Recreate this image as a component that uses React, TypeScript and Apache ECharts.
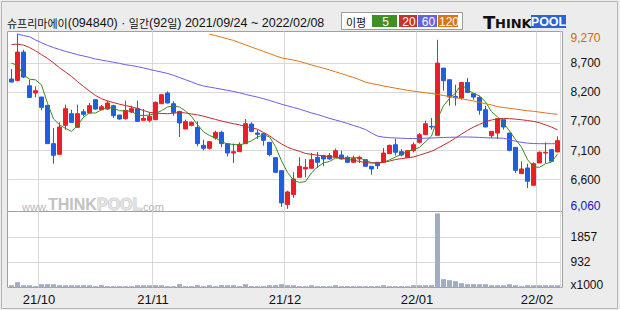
import React, { useEffect, useRef } from 'react';
import * as echarts from 'echarts';

const TITLE_NAME = '슈프리마에이';
const TITLE_CODE = '(094840)';
const TITLE_PERIOD = '2021/09/24 ~ 2022/02/08';

const DATES = [
  '2021/09/24', '2021/09/27', '2021/09/28', '2021/09/29', '2021/09/30',
  '2021/10/01', '2021/10/05', '2021/10/06', '2021/10/07', '2021/10/08', '2021/10/12', '2021/10/13', '2021/10/14', '2021/10/15',
  '2021/10/18', '2021/10/19', '2021/10/20', '2021/10/21', '2021/10/22', '2021/10/25', '2021/10/26', '2021/10/27', '2021/10/28', '2021/10/29',
  '2021/11/01', '2021/11/02', '2021/11/03', '2021/11/04', '2021/11/05', '2021/11/08', '2021/11/09', '2021/11/10', '2021/11/11', '2021/11/12',
  '2021/11/15', '2021/11/16', '2021/11/17', '2021/11/18', '2021/11/19', '2021/11/22', '2021/11/23', '2021/11/24', '2021/11/25', '2021/11/26',
  '2021/11/29', '2021/11/30',
  '2021/12/01', '2021/12/02', '2021/12/03', '2021/12/06', '2021/12/07', '2021/12/08', '2021/12/09', '2021/12/10', '2021/12/13', '2021/12/14',
  '2021/12/15', '2021/12/16', '2021/12/17', '2021/12/20', '2021/12/21', '2021/12/22', '2021/12/23', '2021/12/24', '2021/12/27', '2021/12/28',
  '2021/12/29', '2021/12/30',
  '2022/01/03', '2022/01/04', '2022/01/05', '2022/01/06', '2022/01/07', '2022/01/10', '2022/01/11', '2022/01/12', '2022/01/13', '2022/01/14',
  '2022/01/17', '2022/01/18', '2022/01/19', '2022/01/20', '2022/01/21', '2022/01/24', '2022/01/25', '2022/01/26', '2022/01/27', '2022/01/28',
  '2022/02/03', '2022/02/04', '2022/02/07', '2022/02/08',
];

const OPEN = [
  8442, 8417, 8937, 8319, 8185, 8112, 7959, 7256, 7060, 7592,
  7806, 7555, 7842, 7818, 8063, 7879, 7891, 7953, 7781, 7714,
  7836, 7898, 7684, 7684, 7696, 7989, 8185, 7989, 7849, 7525,
  7592, 7555, 7225, 7170, 7359, 7463, 7256, 7084, 7109, 7256,
  7616, 7451, 7439, 7280, 6999, 6760, 6137, 6320, 6638, 6791,
  6803, 7005, 7036, 7036, 7011, 7048, 7005, 6913, 6974, 6962,
  6840, 6913, 6913, 7072, 7237, 7109, 7005, 7127, 7280, 7421,
  7573, 7408, 8643, 8430, 8124, 8093, 8380, 8173, 8105, 7879,
  7402, 7451, 7696, 7451, 7188, 6705, 6809, 6491, 6901, 7084,
  7146, 7103,
];
const CLOSE = [
  8387, 8937, 8478, 8105, 8228, 7922, 7256, 7042, 7561, 7898,
  7647, 7806, 7794, 7953, 7891, 7934, 8002, 7769, 7708, 7867,
  7898, 7665, 7720, 7757, 8014, 8154, 8002, 7830, 7635, 7659,
  7647, 7256, 7170, 7292, 7463, 7256, 7084, 7109, 7243, 7622,
  7482, 7427, 7317, 7054, 6730, 6167, 6369, 6607, 6840, 6821,
  6962, 6913, 6974, 6974, 7127, 6974, 6913, 6987, 7005, 6840,
  6791, 6852, 7084, 7225, 7097, 7048, 7127, 7237, 7421, 7622,
  7561, 8735, 8411, 8112, 8099, 8380, 8197, 8112, 7867, 7561,
  7482, 7714, 7561, 7133, 6766, 6791, 6565, 6889, 7097, 7097,
  6932, 7311,
];
const LOW = [
  8380, 8400, 8460, 8099, 8105, 7867, 7250, 6889, 7054, 7512,
  7641, 7549, 7757, 7812, 7879, 7873, 7879, 7726, 7696, 7696,
  7818, 7659, 7684, 7647, 7690, 7983, 7996, 7769, 7378, 7519,
  7573, 7207, 7133, 7146, 7329, 7194, 7023, 6901, 7103, 7250,
  7463, 7341, 7219, 7023, 6717, 6094, 6060, 6260, 6638, 6638,
  6803, 6809, 6840, 6962, 7011, 6962, 6901, 6901, 6901, 6840,
  6687, 6791, 6913, 7072, 7036, 7023, 7005, 7097, 7256, 7421,
  7512, 7408, 8228, 7953, 7953, 8063, 8197, 8063, 7787, 7561,
  7360, 7341, 7512, 7115, 6717, 6705, 6442, 6491, 6901, 6901,
  6932, 7103,
];
const HIGH = [
  8625, 9270, 8980, 8430, 8307, 8112, 7965, 7543, 7647, 7971,
  7879, 7971, 7891, 8002, 8069, 7965, 8044, 7971, 7781, 8044,
  7953, 8044, 7891, 7836, 8032, 8160, 8215, 8032, 7849, 7696,
  7665, 7665, 7329, 7292, 7494, 7494, 7256, 7256, 7280, 7708,
  7647, 7512, 7451, 7286, 7005, 6766, 6393, 6730, 7005, 6974,
  7084, 7103, 7036, 7084, 7164, 7127, 7036, 7036, 7036, 6962,
  6840, 6913, 7176, 7237, 7347, 7158, 7127, 7280, 7451, 7678,
  7726, 9163, 8643, 8430, 8338, 8380, 8460, 8173, 8136, 7953,
  7482, 7714, 7696, 7451, 7188, 6932, 6889, 6913, 7115, 7280,
  7158, 7390,
];

// volume, in thousands of shares
const VOLUME = [
  84, 196, 86, 83, 52, 121, 124, 120, 86, 84,
  85, 83, 86, 84, 51, 86, 50, 49, 52, 50,
  48, 86, 84, 85, 87, 83, 51, 49, 123, 50,
  52, 85, 49, 86, 51, 85, 84, 86, 50, 122,
  51, 49, 52, 84, 86, 121, 85, 86, 50, 49,
  84, 51, 50, 48, 86, 50, 51, 49, 52, 50,
  49, 51, 85, 50, 49, 52, 50, 84, 86, 85,
  87, 2720, 306, 269, 233, 159, 122, 124, 121, 123,
  85, 86, 84, 122, 85, 50, 86, 84, 85, 86,
  84, 85,
];

const MA5 = [
  8735, 8690, 8520, 8440, 8427, 8334, 7998, 7711, 7602, 7536,
  7481, 7591, 7741, 7820, 7818, 7876, 7915, 7910, 7861, 7856,
  7849, 7781, 7772, 7781, 7811, 7862, 7929, 7951, 7927, 7856,
  7755, 7605, 7473, 7405, 7366, 7287, 7253, 7241, 7231, 7263,
  7308, 7377, 7418, 7380, 7202, 6939, 6727, 6585, 6543, 6561,
  6720, 6829, 6902, 6929, 6990, 6992, 6992, 6995, 7001, 6944,
  6907, 6895, 6914, 6958, 7010, 7061, 7116, 7147, 7186, 7291,
  7394, 7715, 7950, 8088, 8184, 8347, 8240, 8180, 8131, 8023,
  7844, 7747, 7637, 7490, 7331, 7193, 6963, 6829, 6822, 6888,
  6916, 7065,
];
const MA20 = [
  9075, 9083, 9065, 9020, 8960, 8890, 8820, 8740, 8650, 8570,
  8490, 8395, 8307, 8220, 8140, 8080, 8040, 8010, 7980, 7955,
  7932, 7900, 7865, 7830, 7818, 7810, 7805, 7815, 7828, 7820,
  7800, 7785, 7760, 7730, 7700, 7672, 7645, 7622, 7600, 7570,
  7550, 7520, 7460, 7400, 7320, 7250, 7190, 7150, 7115, 7075,
  7060, 7045, 7030, 7015, 7005, 6990, 6965, 6950, 6930, 6905,
  6900, 6905, 6913, 6935, 6965, 6980, 6995, 7011, 7045, 7080,
  7115, 7170, 7230, 7290, 7360, 7430, 7500, 7560, 7610, 7660,
  7690, 7712, 7720, 7715, 7706, 7695, 7680, 7665, 7640, 7600,
  7560, 7510,
];
const MA60 = [
  null, 9270, 9240, 9220, 9160, 9110, 9060, 9020, 8985, 8950,
  8920, 8890, 8865, 8840, 8810, 8790, 8770, 8750, 8730, 8705,
  8690, 8670, 8645, 8620, 8595, 8570, 8545, 8510, 8470, 8430,
  8390, 8345, 8315, 8295, 8275, 8255, 8235, 8215, 8190, 8160,
  8135, 8110, 8080, 8050, 8015, 7980, 7950, 7920, 7890, 7855,
  7820, 7790, 7755, 7720, 7690, 7660, 7625, 7590, 7555, 7515,
  7450, 7395, 7375, 7365, 7360, 7355, 7350, 7350, 7352, 7356,
  7360, 7365, 7368, 7372, 7375, 7378, 7378, 7375, 7370, 7365,
  7360, 7360, 7355, 7330, 7300, 7280, 7265, 7258, 7255, 7255,
  7255, 7255,
];
const MA120 = [
  null, null, null, null, null, null, null, null, null, null,
  null, null, null, null, null, null, null, null, null, null,
  null, null, null, null, null, null, null, null, null, null,
  null, null, null, 9265, 9240, 9210, 9180, 9151, 9110, 9070,
  9030, 8990, 8950, 8910, 8870, 8830, 8810, 8790, 8766, 8735,
  8700, 8670, 8640, 8610, 8575, 8540, 8505, 8470, 8430, 8385,
  8360, 8340, 8315, 8295, 8275, 8255, 8235, 8220, 8205, 8190,
  8175, 8160, 8140, 8120, 8100, 8080, 8060, 8040, 8015, 7990,
  7965, 7935, 7920, 7905, 7890, 7875, 7860, 7850, 7835, 7820,
  7805, 7795,
];

const MA_PERIODS = ['5', '20', '60', '120'];
const PRICE_TICKS = [6060, 6595, 7130, 7665, 8200, 8735, 9270];
const PRICE_TICK_LABELS = ['6,060', '6,600', '7,100', '7,700', '8,200', '8,700', '9,270'];
const VOLUME_TICKS = [0, 932, 1857];
const VOLUME_TICK_LABELS = ['x1000', '932', '1857'];

const UP = '#ec1f27';
const DOWN = '#1e5fe2';
const MA_COLORS = ['#3d8a1e', '#c02c2c', '#6b5ce6', '#dc7512'];
const LEGEND_COLORS = ['#3f8f28', '#c6332a', '#6464de', '#dc7410'];
const VOL_COLOR = '#a4acc4';
const GRID_LINE = '#d9d9d9';
const BG = '#ececec';
const LATIN = '"Liberation Sans", Arial, sans-serif';
const KR = '"Noto Sans CJK KR", sans-serif';
const BOLD = '"DejaVu Sans", sans-serif';

const isMonthStart = (i: number) => i > 0 && DATES[i].slice(0, 7) !== DATES[i - 1].slice(0, 7);
const monthLabel = (d: string) => d.slice(2, 4) + '/' + d.slice(5, 7);

function buildOption() {
  const candles = DATES.map((_, i) => [OPEN[i], CLOSE[i], LOW[i], HIGH[i]]);
  const maSeries = [MA5, MA20, MA60, MA120].map((data, k) => ({
    name: 'MA' + MA_PERIODS[k],
    type: 'line',
    xAxisIndex: 0,
    yAxisIndex: 0,
    data,
    symbol: 'none',
    showSymbol: false,
    connectNulls: false,
    lineStyle: { width: 1, color: MA_COLORS[k] },
    itemStyle: { color: MA_COLORS[k] },
    z: 3,
  }));

  const legendX = [372, 399, 418, 438];
  const legendW = [25, 18, 19, 20];

  const graphic: any[] = [
    { type: 'rect', z: -10, shape: { x: 1.5, y: 1.5, width: 616, height: 307 }, style: { fill: BG, stroke: '#b4b4b4', lineWidth: 1 } },
    { type: 'rect', z: -5, shape: { x: 7.5, y: 31.5, width: 555, height: 180 }, style: { fill: '#ffffff', stroke: '#a0a0a0', lineWidth: 1 } },
    { type: 'rect', z: -5, shape: { x: 7.5, y: 211.5, width: 555, height: 76 }, style: { fill: '#ffffff', stroke: '#a0a0a0', lineWidth: 1 } },
    {
      type: 'text', x: 7, y: 23, z: 5,
      style: {
        text: `{k|${TITLE_NAME}}{n|${TITLE_CODE} · }{k|일간}{n|(92}{k|일}{n|) ${TITLE_PERIOD}}`,
        align: 'left', verticalAlign: 'middle', textAlign: 'left', textVerticalAlign: 'middle',
        rich: {
          k: { fontFamily: KR, fontSize: 11, fill: '#111', color: '#111' },
          n: { fontFamily: LATIN, fontSize: 12.5, fill: '#111', color: '#111' },
        },
      },
    },
    { type: 'rect', z: 5, shape: { x: 341.5, y: 12.5, width: 121, height: 17 }, style: { fill: '#ffffff', stroke: '#9a9a9a', lineWidth: 1 } },
    {
      type: 'text', x: 346, y: 21.5, z: 6,
      style: { text: '이평', fontFamily: KR, fontSize: 11, fill: '#111', align: 'left', verticalAlign: 'middle', textAlign: 'left', textVerticalAlign: 'middle' },
    },
    ...MA_PERIODS.flatMap((p, k) => [
      { type: 'rect', z: 6, shape: { x: legendX[k], y: 15, width: legendW[k], height: 12 }, style: { fill: LEGEND_COLORS[k] } },
      {
        type: 'text', z: 7, x: legendX[k] + legendW[k] / 2 + 1, y: 21.5,
        style: { text: p, fontFamily: LATIN, fontSize: 12, fill: '#ffffff', align: 'center', verticalAlign: 'middle', textAlign: 'center', textVerticalAlign: 'middle' },
      },
    ]),
    // THINKPOOL logo
    { type: 'text', z: 6, x: 483, y: 22.2, style: { text: 'T', fontFamily: BOLD, fontWeight: 'bold', fontSize: 18, fill: '#111', align: 'left', verticalAlign: 'middle', textAlign: 'left', textVerticalAlign: 'middle' } },
    { type: 'text', z: 6, x: 495, y: 23.4, style: { text: 'HINK', fontFamily: BOLD, fontWeight: 'bold', fontSize: 13, fill: '#111', align: 'left', verticalAlign: 'middle', textAlign: 'left', textVerticalAlign: 'middle' } },
    { type: 'rect', z: 6, shape: { x: 531, y: 15, width: 35, height: 13 }, style: { fill: '#2a62d8' } },
    { type: 'text', z: 7, x: 548.5, y: 21.7, style: { text: 'POOL', fontFamily: LATIN, fontWeight: 'bold', fontSize: 12.5, fill: '#ffffff', align: 'center', verticalAlign: 'middle', textAlign: 'center', textVerticalAlign: 'middle' } },
    // watermark
    { type: 'text', z: 1, x: 22, y: 206.5, style: { text: 'www.', fontFamily: LATIN, fontSize: 11, fill: '#b8b8b8', align: 'left', verticalAlign: 'middle', textAlign: 'left', textVerticalAlign: 'middle' } },
    { type: 'text', z: 1, x: 48, y: 204.5, style: { text: 'THINK', fontFamily: LATIN, fontWeight: 'bold', fontSize: 16, fill: '#c2c2c2', align: 'left', verticalAlign: 'middle', textAlign: 'left', textVerticalAlign: 'middle' } },
    { type: 'text', z: 1, x: 97, y: 204.5, style: { text: 'POOL', fontFamily: LATIN, fontWeight: 'bold', fontSize: 16, fill: '#e2e2e2', stroke: '#c4c4c4', lineWidth: 1, align: 'left', verticalAlign: 'middle', textAlign: 'left', textVerticalAlign: 'middle' } },
    { type: 'text', z: 1, x: 140, y: 206.5, style: { text: '.com', fontFamily: LATIN, fontSize: 11, fill: '#b8b8b8', align: 'left', verticalAlign: 'middle', textAlign: 'left', textVerticalAlign: 'middle' } },
  ];

  const priceLabel = (v: number) => {
    const idx = PRICE_TICKS.indexOf(v);
    const text = idx >= 0 ? PRICE_TICK_LABELS[idx] : String(v);
    if (idx === PRICE_TICKS.length - 1) return `{hi|${text}}`;
    if (idx === 0) return `{lo|${text}}`;
    return text;
  };
  const volumeLabel = (v: number) => {
    const idx = VOLUME_TICKS.indexOf(v);
    const text = idx >= 0 ? VOLUME_TICK_LABELS[idx] : String(v);
    return idx === 0 ? `{base|${text}}` : text;
  };

  const xCommon = {
    type: 'category',
    data: DATES,
    boundaryGap: true,
    axisLine: { show: false },
    axisTick: { show: false },
    splitLine: { show: true, interval: (i: number) => isMonthStart(i), lineStyle: { color: GRID_LINE, width: 1 } },
  };

  return {
    animation: false,
    backgroundColor: BG,
    textStyle: { fontFamily: LATIN },
    graphic,
    grid: [
      { left: 8.5, top: 31.5, width: 552, height: 180, show: false },
      { left: 8.5, top: 211.5, width: 552, height: 76, show: false },
    ],
    xAxis: [
      { ...xCommon, gridIndex: 0, axisLabel: { show: false } },
      {
        ...xCommon,
        gridIndex: 1,
        axisLabel: {
          show: true,
          interval: (i: number) => isMonthStart(i),
          formatter: (v: string) => monthLabel(v),
          margin: 5,
          padding: [0, 5, 0, 0],
          color: '#111',
          fontSize: 13,
          fontFamily: LATIN,
        },
      },
    ],
    yAxis: [
      {
        type: 'value',
        gridIndex: 0,
        position: 'right',
        min: 6010,
        max: 9315,
        axisLine: { show: false },
        axisTick: { show: false, customValues: PRICE_TICKS.slice(1, -1) },
        splitLine: { show: true, lineStyle: { color: GRID_LINE, width: 1 } },
        axisLabel: {
          customValues: PRICE_TICKS,
          formatter: priceLabel,
          margin: 10,
          color: '#111',
          fontSize: 12,
          fontFamily: LATIN,
          rich: {
            hi: { color: '#d2690f', fontSize: 12, fontFamily: LATIN, padding: [8, 0, 0, 0] },
            lo: { color: '#1414c8', fontSize: 12, fontFamily: LATIN, padding: [0, 0, 5, 0] },
          },
        },
      },
      {
        type: 'value',
        gridIndex: 1,
        position: 'right',
        min: 0,
        max: 2790,
        axisLine: { show: false },
        axisTick: { show: false, customValues: VOLUME_TICKS.slice(1) },
        splitLine: { show: true, lineStyle: { color: GRID_LINE, width: 1 } },
        axisLabel: {
          customValues: VOLUME_TICKS,
          formatter: volumeLabel,
          margin: 10,
          color: '#111',
          fontSize: 12,
          fontFamily: LATIN,
          rich: {
            base: { color: '#111', fontSize: 12, fontFamily: LATIN, padding: [0, 0, 6, 0] },
          },
        },
      },
    ],
    series: [
      {
        name: 'price',
        type: 'candlestick',
        xAxisIndex: 0,
        yAxisIndex: 0,
        data: candles,
        barWidth: 5,
        itemStyle: { color: UP, color0: DOWN, borderColor: UP, borderColor0: DOWN, borderWidth: 1 },
        z: 2,
      },
      ...maSeries,
      {
        name: 'volume',
        type: 'bar',
        xAxisIndex: 1,
        yAxisIndex: 1,
        data: VOLUME,
        barWidth: 5,
        itemStyle: { color: VOL_COLOR },
      },
    ],
  };
}

export default function App() {
  const ref = useRef<HTMLDivElement>(null);
  useEffect(() => {
    if (!ref.current) return;
    const chart = echarts.init(ref.current, null, { renderer: 'svg' });
    chart.setOption(buildOption() as any);
    return () => chart.dispose();
  }, []);
  return <div ref={ref} style={{ position: 'absolute', left: 0, top: 0, width: 620, height: 310 }} />;
}
